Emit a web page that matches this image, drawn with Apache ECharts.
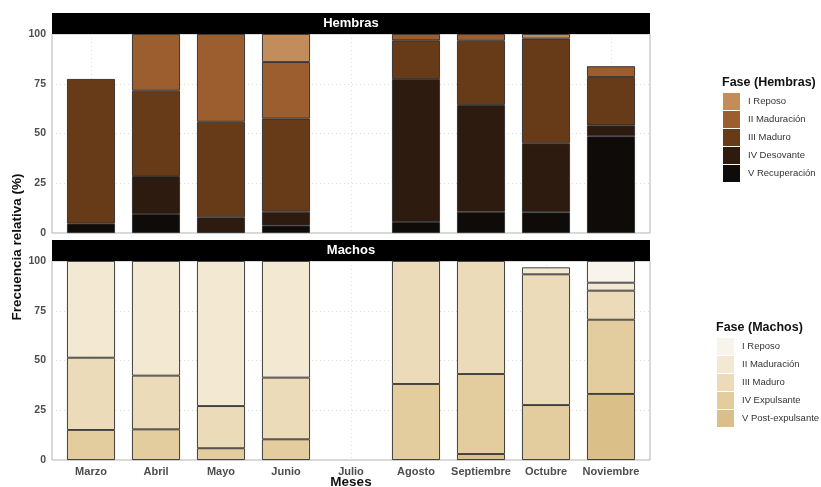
<!DOCTYPE html>
<html>
<head>
<meta charset="utf-8">
<script src="https://cdn.jsdelivr.net/npm/echarts@6/dist/echarts.min.js"></script>
<style>
  html, body { margin: 0; padding: 0; background: #fff; }
  #chart { width: 821px; height: 487px; }
</style>
</head>
<body>
<div id="chart"></div>
<script>
// Monthly gonadal phase frequencies (%), females and males
const months = ['Marzo', 'Abril', 'Mayo', 'Junio', 'Julio', 'Agosto', 'Septiembre', 'Octubre', 'Noviembre'];
const yTicks = [0, 25, 50, 75, 100];

const phasesH = ['I Reposo', 'II Maduración', 'III Maduro', 'IV Desovante', 'V Recuperación'];
const hembrasI   = [null, null, null, 14.1, null, null, null, 2.3, null];
const hembrasII  = [null, 28.5, 44.1, 28.4, null, 3.2, 3.4, null, 5.4];
const hembrasIII = [72.7, 42.9, 48.0, 46.8, null, 19.4, 32.3, 52.6, 24.3];
const hembrasIV  = [null, 19.1, 7.9, 7.0, null, 71.9, 53.6, 34.7, 5.5];
const hembrasV   = [4.7, 9.5, null, 3.7, null, 5.5, 10.7, 10.4, 48.6];

const phasesM = ['I Reposo', 'II Maduración', 'III Maduro', 'IV Expulsante', 'V Post-expulsante'];
const machosI   = [null, null, null, null, null, null, null, null, 10.9];
const machosII  = [48.6, 57.6, 72.9, 58.6, null, null, null, 3.5, 4.0];
const machosIII = [36.3, 27.0, 21.2, 31.0, null, 61.8, 56.8, 65.7, 14.6];
const machosIV  = [15.1, 15.4, 5.9, 10.4, null, 38.2, 40.2, 27.6, 37.3];
const machosV   = [null, null, null, null, null, null, 3.0, null, 33.2];

const colorsH = ['#c38d5b', '#9c5e2f', '#673a18', '#2e1b10', '#0e0b09'];
const colorsM = ['#f8f4ec', '#f3e8d2', '#ecdbb8', '#e3cc9d', '#dbbf88'];

const FONT = 'Liberation Sans, Arial, sans-serif';

// panel geometry: each panel spans 9.2 month-units (0.6 padding each side)
const P = { left: 52, width: 598, topH: 34, topM: 261, height: 199, strip: 21 };
const unit = P.width / 9.2;
const barGridLeft = P.left + 0.1 * unit;
const barGridWidth = 9 * unit;

const positions = months.map((_, i) => i + 1);
const gridLine = { show: true, lineStyle: { color: '#dcdcdc', type: [1, 3], width: 1 } };

// frame axes: panel border, grid lines and tick labels
function frameX(gridIndex, showLabels) {
  return {
    type: 'value', gridIndex, min: 0.4, max: 9.6,
    axisLine: { show: false },
    axisTick: { show: false, customValues: positions },
    axisLabel: {
      show: showLabels, customValues: positions, margin: 6,
      formatter: v => months[Math.round(v) - 1] || '',
      color: '#4d4d4d', fontFamily: FONT, fontWeight: 'bold', fontSize: 11
    },
    splitLine: gridLine
  };
}
function frameY(gridIndex) {
  return {
    type: 'value', gridIndex, min: 0, max: 100, interval: 25,
    axisLine: { show: false }, axisTick: { show: false },
    axisLabel: { color: '#4d4d4d', fontFamily: FONT, fontWeight: 'bold', fontSize: 10.5, margin: 6,
      formatter: v => yTicks.includes(v) ? String(v) : '' },
    splitLine: gridLine
  };
}
// bar axes: month categories and stacked percentages
function barX(gridIndex) {
  return { type: 'category', gridIndex, data: months, show: false };
}
function barY(gridIndex) {
  return { type: 'value', gridIndex, min: 0, max: 100, show: false, splitLine: { show: false } };
}

function makeSeries(names, arrays, colors, idx, prefix, stack) {
  // stacking order: V at the bottom up to I at the top
  const out = [];
  for (let k = names.length - 1; k >= 0; k--) {
    out.push({
      type: 'bar', name: prefix + names[k], stack,
      xAxisIndex: idx, yAxisIndex: idx, barWidth: 48,
      itemStyle: { color: colors[k], borderColor: '#2b2b2b', borderWidth: 0.9 },
      emphasis: { disabled: true },
      data: arrays[k]
    });
  }
  return out;
}

const seriesH = makeSeries(phasesH, [hembrasI, hembrasII, hembrasIII, hembrasIV, hembrasV], colorsH, 2, 'H·', 'h');
const seriesM = makeSeries(phasesM, [machosI, machosII, machosIII, machosIV, machosV], colorsM, 3, 'M·', 'm');

function legendFor(prefix, names, left, top) {
  return {
    orient: 'vertical', left, top, padding: 0, itemGap: 1,
    itemWidth: 17, itemHeight: 17, icon: 'rect', selectedMode: false,
    itemStyle: { borderWidth: 0 },
    data: names.map(n => prefix + n),
    formatter: n => n.slice(2),
    textStyle: { fontFamily: FONT, fontSize: 9.5, color: '#333', padding: [0, 0, 0, 3] }
  };
}

function strip(top, label) {
  return {
    type: 'group', left: P.left, top: top - P.strip,
    children: [
      { type: 'rect', shape: { x: 0, y: 0, width: P.width, height: P.strip }, style: { fill: '#000' } },
      { type: 'text', x: P.width / 2, y: P.strip / 2,
        style: { text: label, fill: '#fff', font: 'bold 13px ' + FONT, align: 'center', verticalAlign: 'middle' } }
    ]
  };
}

const chart = echarts.init(document.getElementById('chart'), null, { renderer: 'canvas' });
chart.setOption({
  animation: false,
  backgroundColor: '#fff',
  grid: [
    { left: P.left, top: P.topH, width: P.width, height: P.height, show: true, borderColor: '#b3b3b3', borderWidth: 1 },
    { left: P.left, top: P.topM, width: P.width, height: P.height, show: true, borderColor: '#b3b3b3', borderWidth: 1 },
    { left: barGridLeft, top: P.topH, width: barGridWidth, height: P.height },
    { left: barGridLeft, top: P.topM, width: barGridWidth, height: P.height }
  ],
  xAxis: [frameX(0, false), frameX(1, true), barX(2), barX(3)],
  yAxis: [frameY(0), frameY(1), barY(2), barY(3)],
  legend: [
    legendFor('H·', phasesH, 723, 93),
    legendFor('M·', phasesM, 717, 338)
  ],
  title: [
    { text: 'Fase (Hembras)', left: 722, top: 76, padding: 0,
      textStyle: { fontFamily: FONT, fontWeight: 'bold', fontSize: 12.5, color: '#111' } },
    { text: 'Fase (Machos)', left: 716, top: 321, padding: 0,
      textStyle: { fontFamily: FONT, fontWeight: 'bold', fontSize: 12.5, color: '#111' } }
  ],
  graphic: [
    strip(P.topH, 'Hembras'),
    strip(P.topM, 'Machos'),
    { type: 'text', x: 351, y: 482,
      style: { text: 'Meses', fill: '#111', font: 'bold 13.5px ' + FONT, align: 'center', verticalAlign: 'middle' } },
    { type: 'text', x: 17, y: 247, rotation: Math.PI / 2,
      style: { text: 'Frecuencia relativa (%)', fill: '#111', font: 'bold 13.5px ' + FONT, align: 'center', verticalAlign: 'middle' } }
  ],
  series: seriesH.concat(seriesM)
});
</script>
</body>
</html>
